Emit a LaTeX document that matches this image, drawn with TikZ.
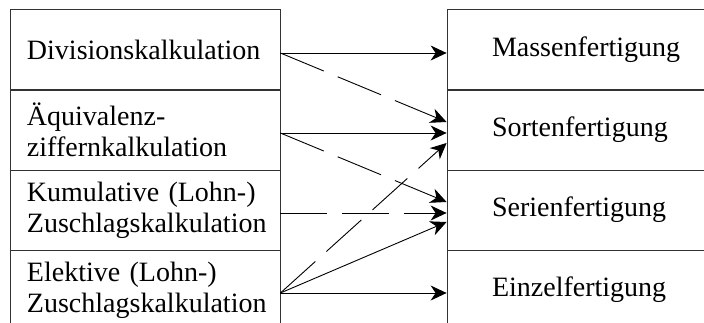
\documentclass[tikz,border=0pt]{standalone}
\usepackage{fontspec}
\setmainfont{Liberation Serif}
\usetikzlibrary{arrows.meta}
\tikzset{
  kalk/.style={draw=black!80, line width=0.8pt, minimum width=270pt, minimum height=80pt,
    text width=236pt, inner xsep=17pt, align=left, font=\fontsize{28}{31}\selectfont},
  fert/.style={draw=black!80, line width=0.8pt, minimum width=276pt, minimum height=80pt,
    text width=186pt, inner xsep=45pt, align=left, font=\fontsize{28}{31}\selectfont},
  pfeil/.style={-{Stealth[length=16pt,width=15pt,inset=5pt]}, line width=0.9pt},
  strich/.style={pfeil, dash pattern=on 47pt off 15pt}
}
\begin{document}
\begin{tikzpicture}[x=1pt,y=-1pt]
        \useasboundingbox (0,0) rectangle (704,323);

        % Kalkulationsverfahren
        \node[kalk] (div) at (145,49.5) {Divisionskalkulation};
        \node[kalk] (aeq) at (145,130) {Äquivalenz-\\ziffernkalkulation};
        \node[kalk] (kum) at (145,210) {Kumulative (Lohn-)\\Zuschlagskalkulation};
        \node[kalk] (ele) at (145,290) {Elektive (Lohn-)\\Zuschlagskalkulation};

        % Fertigungstypen
        \node[fert] (mas) at (585,49.5) {Massenfertigung};
        \node[fert] (sor) at (585,130) {Sortenfertigung};
        \node[fert] (ser) at (585,210) {Serienfertigung};
        \node[fert] (ein) at (585,290) {Einzelfertigung};

        \draw[pfeil] ([yshift=-3.5pt]div.east) -- ([yshift=-3.5pt]mas.west);
        \draw[strich] ([yshift=-3.5pt]div.east) -- ([yshift=8pt]sor.west);
        \draw[pfeil] ([yshift=-3pt]aeq.east) -- ([yshift=-3pt]sor.west);
        \draw[strich] ([yshift=-3pt]aeq.east) -- ([yshift=8pt]ser.west);
        \draw[strich] ([yshift=-3pt]kum.east) -- ([yshift=-3pt]ser.west);
        \draw[strich] ([yshift=-3pt]ele.east) -- ([yshift=-13pt]sor.west);
        \draw[pfeil] ([yshift=-3pt]ele.east) -- ([yshift=-12pt]ser.west);
        \draw[pfeil] ([yshift=-3pt]ele.east) -- ([yshift=-3pt]ein.west);
\end{tikzpicture}
\end{document}
